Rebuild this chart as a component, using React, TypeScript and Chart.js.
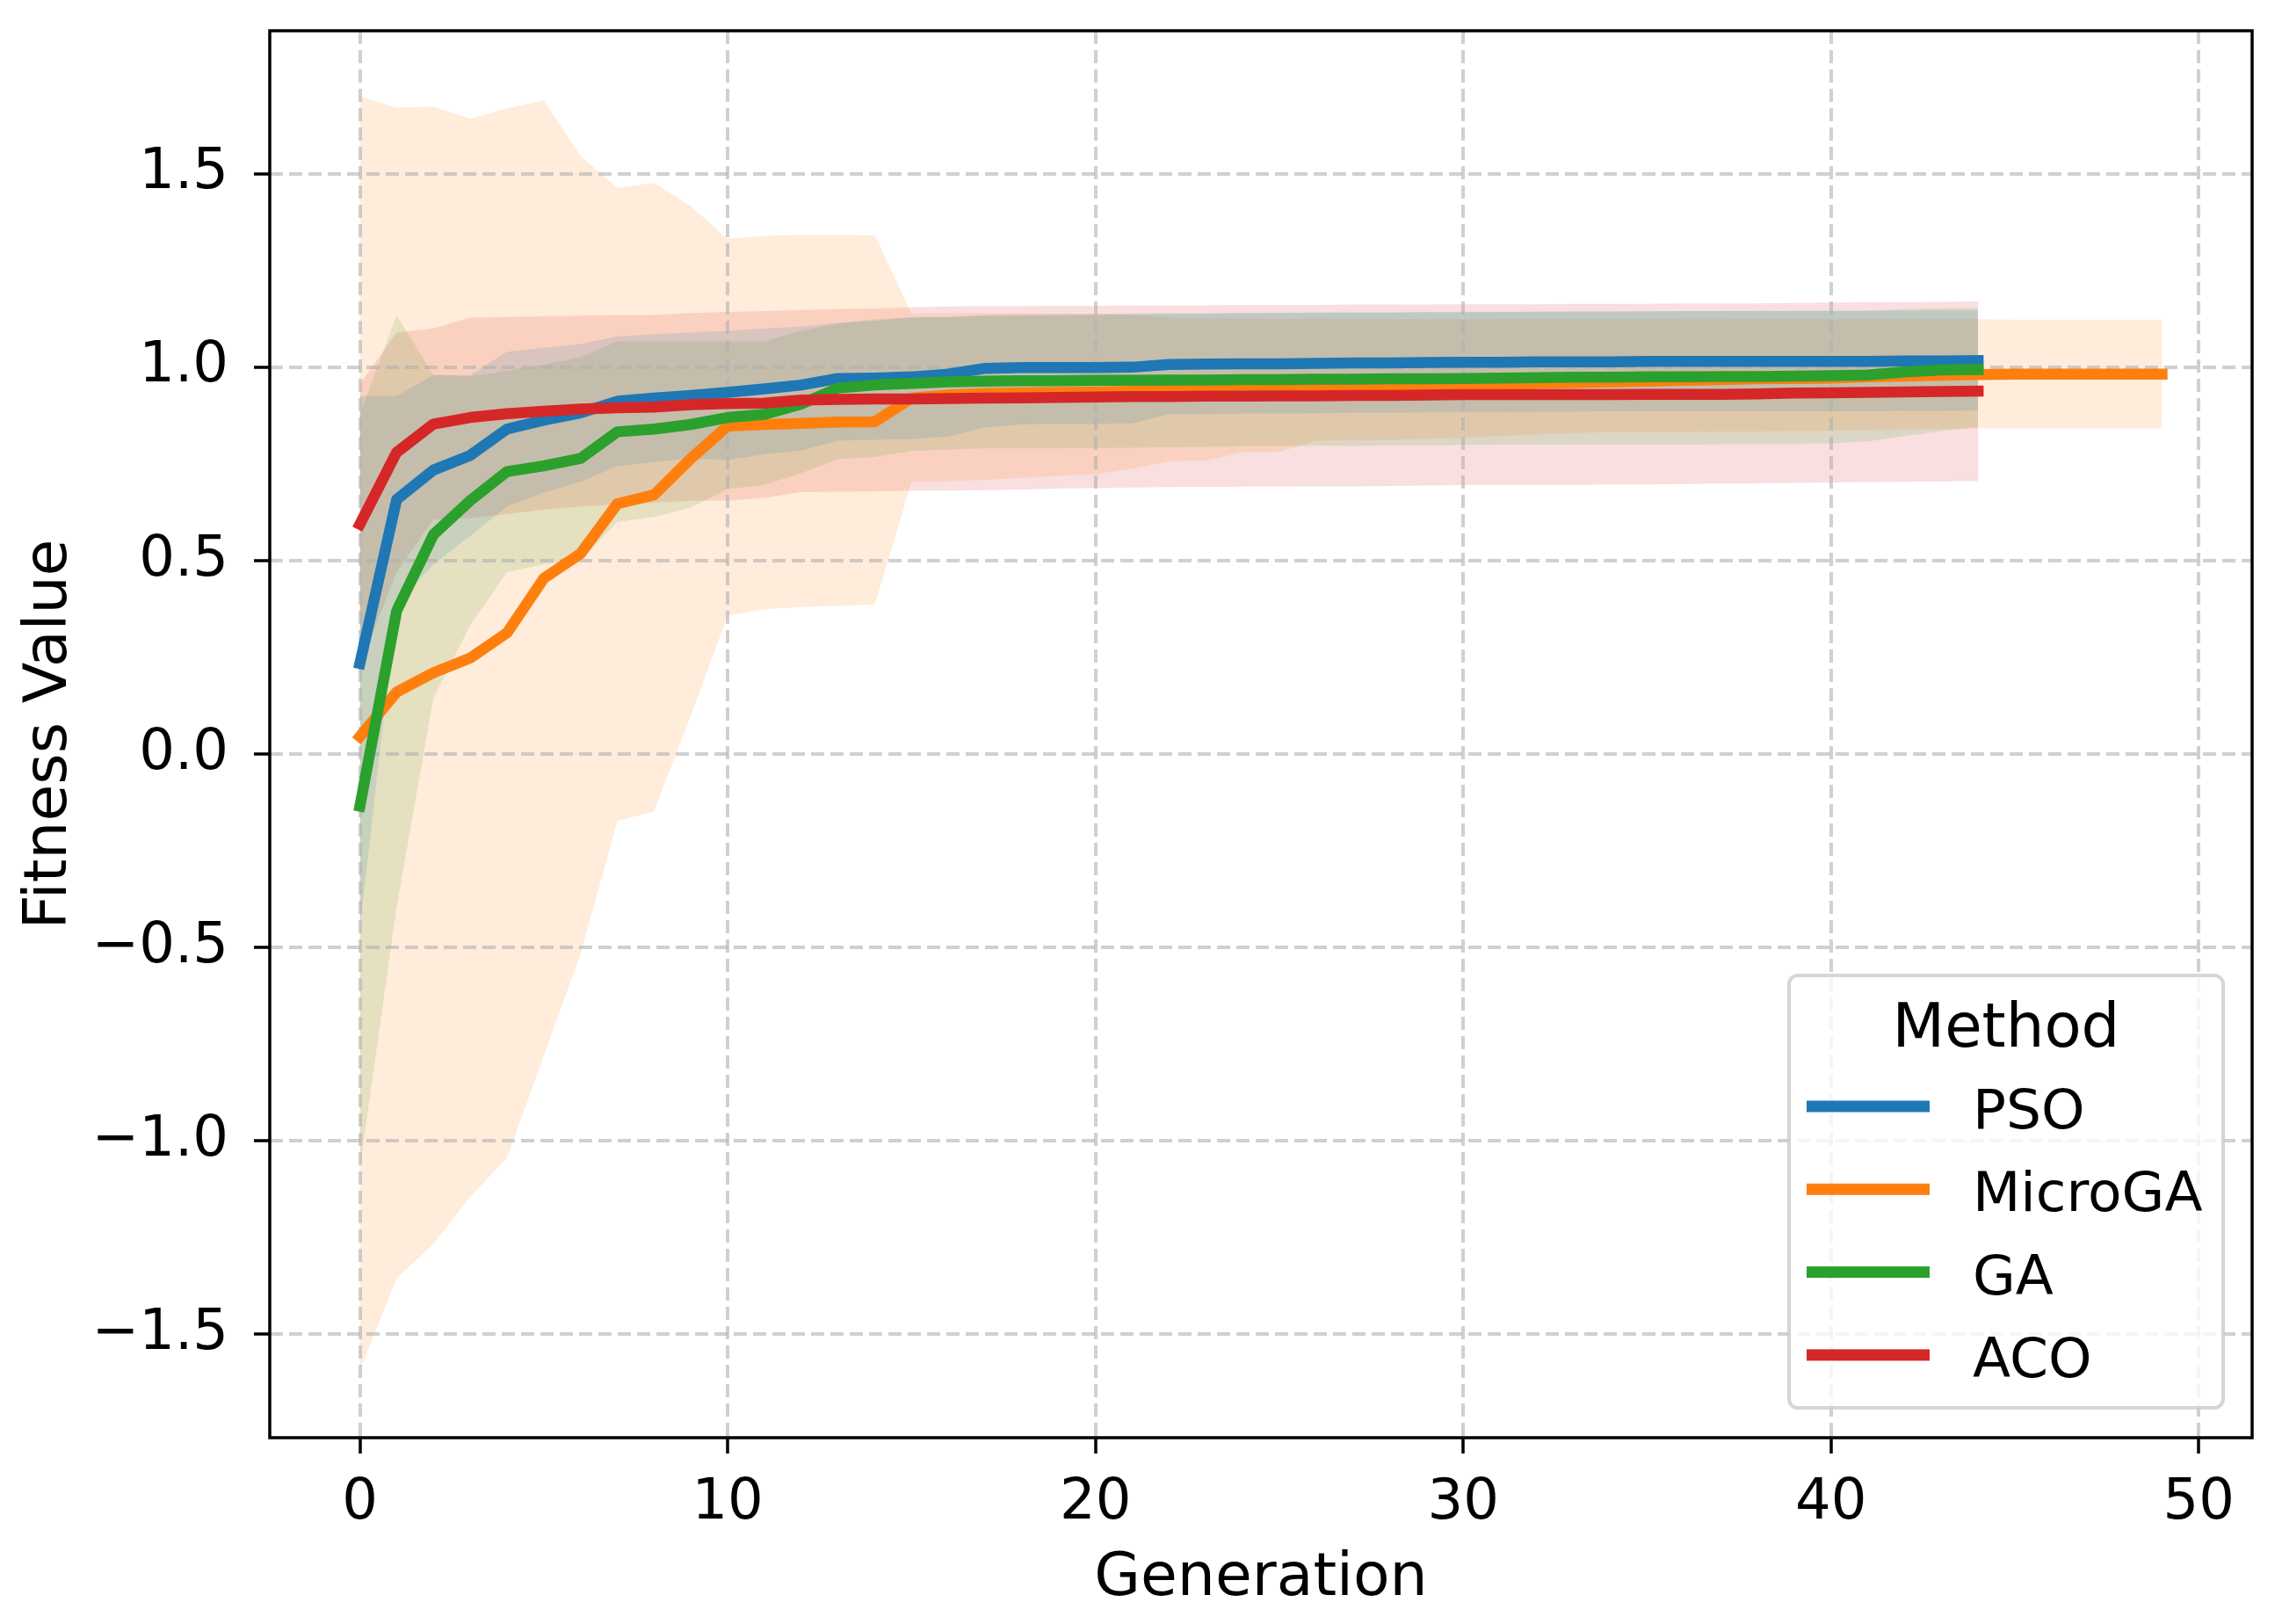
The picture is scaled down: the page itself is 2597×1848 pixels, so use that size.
import { useEffect, useRef } from "react"
import { Chart, registerables } from "chart.js"
import type { Plugin } from "chart.js"

Chart.register(...registerables)

const methods = ["PSO", "MicroGA", "GA", "ACO"]
const lineColors = ["#1f77b4", "#ff7f0e", "#2ca02c", "#d62728"]
const bandColors = [
  "rgba(31,119,180,0.15)",
  "rgba(255,127,14,0.15)",
  "rgba(44,160,44,0.15)",
  "rgba(214,39,40,0.15)",
]

// mean fitness per generation, with the shaded band edges
const psoMean = [
  0.234, 0.658, 0.734, 0.772, 0.84, 0.863, 0.882, 0.912, 0.92, 0.927,
  0.935, 0.944, 0.954, 0.971, 0.972, 0.975, 0.982, 0.997, 0.999, 0.999,
  0.999, 1.0, 1.007, 1.008, 1.009, 1.009, 1.01, 1.011, 1.011, 1.012,
  1.013, 1.013, 1.014, 1.014, 1.014, 1.015, 1.015, 1.015, 1.015, 1.015,
  1.015, 1.015, 1.016, 1.016, 1.017,
]
const psoUpper = [
  0.926, 0.926, 0.98, 0.98, 1.04, 1.05, 1.06, 1.08, 1.085, 1.09,
  1.094, 1.1, 1.105, 1.115, 1.12, 1.13, 1.13, 1.135, 1.136, 1.137,
  1.138, 1.139, 1.14, 1.14, 1.141, 1.141, 1.142, 1.142, 1.142, 1.143,
  1.143, 1.143, 1.144, 1.144, 1.144, 1.144, 1.145, 1.145, 1.145, 1.145,
  1.145, 1.145, 1.146, 1.146, 1.146,
]
const psoLower = [
  -0.45, 0.39, 0.49, 0.564, 0.64, 0.676, 0.704, 0.744, 0.755, 0.764,
  0.76, 0.775, 0.785, 0.81, 0.812, 0.814, 0.821, 0.844, 0.852, 0.853,
  0.853, 0.855, 0.878, 0.879, 0.88, 0.88, 0.881, 0.882, 0.882, 0.883,
  0.884, 0.884, 0.885, 0.885, 0.886, 0.886, 0.886, 0.886, 0.886, 0.886,
  0.886, 0.886, 0.887, 0.887, 0.888,
]

const microMean = [
  0.045, 0.16, 0.21, 0.248, 0.313, 0.454, 0.518, 0.647, 0.67, 0.764,
  0.848, 0.852, 0.855, 0.858, 0.859, 0.92, 0.928, 0.932, 0.934, 0.935,
  0.936, 0.938, 0.94, 0.941, 0.942, 0.944, 0.946, 0.948, 0.95, 0.952,
  0.954, 0.956, 0.958, 0.96, 0.962, 0.964, 0.966, 0.968, 0.97, 0.971,
  0.972, 0.975, 0.977, 0.979, 0.981, 0.982, 0.982, 0.982, 0.982, 0.982,
]
const microUpper = [
  1.7, 1.671, 1.674, 1.643, 1.669, 1.69, 1.547, 1.463, 1.477, 1.416,
  1.332, 1.34, 1.342, 1.342, 1.341, 1.139, 1.14, 1.14, 1.14, 1.139,
  1.138, 1.135, 1.128, 1.126, 1.125, 1.125, 1.125, 1.124, 1.124, 1.124,
  1.124, 1.124, 1.124, 1.124, 1.124, 1.124, 1.124, 1.124, 1.124, 1.124,
  1.124, 1.124, 1.124, 1.124, 1.124, 1.123, 1.123, 1.123, 1.123, 1.123,
]
const microLower = [
  -1.593, -1.356, -1.267, -1.145, -1.045, -0.78, -0.517, -0.174, -0.148, 0.1,
  0.358, 0.374, 0.38, 0.383, 0.386, 0.704, 0.705, 0.709, 0.714, 0.719,
  0.723, 0.738, 0.757, 0.759, 0.78, 0.781, 0.81, 0.811, 0.812, 0.815,
  0.818, 0.822, 0.826, 0.83, 0.832, 0.833, 0.833, 0.834, 0.834, 0.835,
  0.836, 0.837, 0.839, 0.84, 0.842, 0.842, 0.842, 0.842, 0.842, 0.842,
]

const gaMean = [
  -0.135, 0.37, 0.567, 0.655, 0.73, 0.745, 0.764, 0.833, 0.84, 0.852,
  0.87, 0.878, 0.905, 0.946, 0.954, 0.958, 0.962, 0.964, 0.965, 0.965,
  0.966, 0.966, 0.967, 0.967, 0.968, 0.968, 0.969, 0.969, 0.97, 0.97,
  0.971, 0.972, 0.973, 0.974, 0.974, 0.975, 0.975, 0.976, 0.976, 0.977,
  0.978, 0.98, 0.988, 0.993, 0.994,
]
const gaUpper = [
  0.88, 1.134, 0.98, 0.977, 0.99, 1.007, 1.026, 1.067, 1.067, 1.067,
  1.067, 1.067, 1.094, 1.113, 1.124, 1.128, 1.13, 1.132, 1.133, 1.134,
  1.135, 1.136, 1.137, 1.138, 1.139, 1.14, 1.14, 1.141, 1.141, 1.142,
  1.142, 1.143, 1.143, 1.144, 1.144, 1.145, 1.145, 1.145, 1.146, 1.146,
  1.146, 1.147, 1.15, 1.152, 1.153,
]
const gaLower = [
  -1.07, -0.395, 0.145, 0.333, 0.47, 0.49, 0.502, 0.6, 0.613, 0.637,
  0.685, 0.696, 0.726, 0.762, 0.768, 0.783, 0.787, 0.79, 0.79, 0.79,
  0.791, 0.792, 0.793, 0.794, 0.795, 0.796, 0.797, 0.797, 0.798, 0.798,
  0.799, 0.8, 0.8, 0.8, 0.8, 0.8, 0.8, 0.801, 0.801, 0.802,
  0.803, 0.808, 0.822, 0.835, 0.845,
]

const acoMean = [
  0.594, 0.78, 0.853, 0.87, 0.88, 0.886, 0.892, 0.895, 0.897, 0.903,
  0.906, 0.907, 0.915, 0.917, 0.918, 0.918, 0.919, 0.92, 0.921, 0.922,
  0.923, 0.924, 0.924, 0.925, 0.925, 0.926, 0.926, 0.927, 0.927, 0.928,
  0.929, 0.929, 0.929, 0.929, 0.929, 0.93, 0.93, 0.93, 0.931, 0.933,
  0.934, 0.935, 0.936, 0.937, 0.938,
]
const acoUpper = [
  0.956, 1.09, 1.1, 1.128, 1.13, 1.132, 1.133, 1.135, 1.135, 1.14,
  1.143, 1.145, 1.148, 1.15, 1.152, 1.155, 1.157, 1.158, 1.158, 1.159,
  1.159, 1.16, 1.16, 1.16, 1.161, 1.161, 1.161, 1.162, 1.162, 1.162,
  1.163, 1.163, 1.163, 1.164, 1.164, 1.164, 1.165, 1.165, 1.165, 1.166,
  1.167, 1.168, 1.168, 1.169, 1.17,
]
const acoLower = [
  0.23, 0.47, 0.606, 0.61, 0.62, 0.632, 0.64, 0.645, 0.65, 0.655,
  0.655, 0.662, 0.677, 0.678, 0.679, 0.681, 0.681, 0.682, 0.684, 0.686,
  0.688, 0.689, 0.69, 0.69, 0.691, 0.691, 0.692, 0.692, 0.693, 0.694,
  0.695, 0.695, 0.696, 0.696, 0.697, 0.697, 0.698, 0.699, 0.7, 0.701,
  0.702, 0.703, 0.704, 0.705, 0.706,
]

const xTicks = [0, 10, 20, 30, 40, 50]
const yTicks = [-1.5, -1.0, -0.5, 0.0, 0.5, 1.0, 1.5]

const FONT = "'DejaVu Sans', sans-serif"

const series = [
  { mean: psoMean, upper: psoUpper, lower: psoLower },
  { mean: microMean, upper: microUpper, lower: microLower },
  { mean: gaMean, upper: gaUpper, lower: gaLower },
  { mean: acoMean, upper: acoUpper, lower: acoLower },
]

const toPoints = (values: number[]) => values.map((y, x) => ({ x, y }))

const fmtTick = (v: number) => {
  const s = Math.abs(v).toFixed(1)
  return v < 0 ? "\u2212" + s : s
}

// spines, legend and axis titles, drawn like matplotlib does
const overlay: Plugin<"line"> = {
  id: "overlay",
  afterDatasetsDraw(chart) {
    const { ctx, chartArea: a } = chart
    ctx.save()
    ctx.strokeStyle = "#000"
    ctx.lineWidth = 3.5
    ctx.strokeRect(a.left, a.top, a.right - a.left, a.bottom - a.top)
    ctx.restore()
  },
  afterDraw(chart) {
    const { ctx, chartArea: a } = chart
    ctx.save()

    // legend box
    const bw = 494
    const bh = 492
    const bx = a.right - 33 - bw
    const by = a.bottom - 34 - bh
    ctx.beginPath()
    ctx.roundRect(bx, by, bw, bh, 10)
    ctx.fillStyle = "rgba(255,255,255,0.8)"
    ctx.fill()
    ctx.strokeStyle = "rgba(204,204,204,0.8)"
    ctx.lineWidth = 4
    ctx.stroke()

    ctx.fillStyle = "#000"
    ctx.textAlign = "center"
    ctx.textBaseline = "alphabetic"
    ctx.font = `69px ${FONT}`
    ctx.fillText("Method", bx + bw / 2, by + 81)

    ctx.textAlign = "left"
    ctx.font = `63px ${FONT}`
    methods.forEach((name, i) => {
      const y = by + 149 + i * 94.3
      ctx.fillStyle = lineColors[i]
      ctx.fillRect(bx + 20, y - 6.5, 140, 13)
      ctx.fillStyle = "#000"
      ctx.fillText(name, bx + 209, y + 25)
    })

    // axis titles
    ctx.font = `68px ${FONT}`
    ctx.textAlign = "center"
    ctx.fillText("Generation", (a.left + a.right) / 2, 1815)
    ctx.translate(75, (a.top + a.bottom) / 2)
    ctx.rotate(-Math.PI / 2)
    ctx.fillText("Fitness Value", 0, 0)

    ctx.restore()
  },
}

export default function App() {
  const canvasRef = useRef<HTMLCanvasElement>(null)
  const chartRef = useRef<Chart<"line"> | null>(null)

  useEffect(() => {
    if (!canvasRef.current) return
    if (chartRef.current) chartRef.current.destroy()

    // lines first in the list so they are painted on top; ACO topmost
    const lineOrder = [3, 2, 1, 0]
    const lineSets = lineOrder.map((i) => ({
      label: methods[i],
      data: toPoints(series[i].mean),
      borderColor: lineColors[i],
      backgroundColor: lineColors[i],
      borderWidth: 12.5,
      borderCapStyle: "square" as const,
      borderJoinStyle: "round" as const,
      pointRadius: 0,
      fill: false,
    }))

    const bandSets: any[] = []
    series.forEach((s, i) => {
      const upperIndex = lineSets.length + bandSets.length
      bandSets.push({
        label: methods[i] + " upper",
        data: toPoints(s.upper),
        borderWidth: 0,
        borderColor: "rgba(0,0,0,0)",
        backgroundColor: bandColors[i],
        pointRadius: 0,
        fill: upperIndex + 1,
      })
      bandSets.push({
        label: methods[i] + " lower",
        data: toPoints(s.lower),
        borderWidth: 0,
        borderColor: "rgba(0,0,0,0)",
        backgroundColor: bandColors[i],
        pointRadius: 0,
        fill: false,
      })
    })

    const gridStyle = {
      color: "rgba(176,176,176,0.6)",
      lineWidth: 4,
      tickColor: "#000",
      tickLength: 18,
      tickWidth: 3.5,
      tickBorderDash: [],
    }

    chartRef.current = new Chart(canvasRef.current, {
      type: "line",
      data: { datasets: [...lineSets, ...bandSets] },
      plugins: [overlay],
      options: {
        animation: false,
        responsive: true,
        maintainAspectRatio: false,
        devicePixelRatio: 1,
        events: [],
        layout: { padding: { left: 0, top: 35, right: 34, bottom: 0 } },
        plugins: {
          legend: { display: false },
          tooltip: { enabled: false },
          filler: { drawTime: "beforeDraw" },
        },
        scales: {
          x: {
            type: "linear",
            min: -2.45,
            max: 51.45,
            afterBuildTicks: (scale) => {
              scale.ticks = xTicks.map((value) => ({ value }))
            },
            afterFit: (scale: any) => {
              scale.height = 212
              scale.paddingLeft = 0
              scale.paddingRight = 0
            },
            grid: gridStyle,
            border: { display: false, dash: [15, 7] },
            ticks: {
              color: "#000",
              font: { family: FONT, size: 64 },
              padding: 19,
              maxRotation: 0,
              autoSkip: false,
            },
          },
          y: {
            type: "linear",
            min: -1.768,
            max: 1.87,
            afterBuildTicks: (scale) => {
              scale.ticks = yTicks.map((value) => ({ value }))
            },
            afterFit: (scale: any) => {
              scale.width = 307
              scale.paddingTop = 0
              scale.paddingBottom = 0
            },
            grid: gridStyle,
            border: { display: false, dash: [15, 7] },
            ticks: {
              color: "#000",
              font: { family: FONT, size: 64 },
              padding: 29,
              autoSkip: false,
              callback: (v) => fmtTick(Number(v)),
            },
          },
        },
      },
    })

    return () => {
      if (chartRef.current) {
        chartRef.current.destroy()
        chartRef.current = null
      }
    }
  }, [])

  return (
    <div
      style={{
        position: "fixed",
        left: 0,
        top: 0,
        width: 2597,
        height: 1848,
        background: "#fff",
      }}
    >
      <canvas ref={canvasRef} />
    </div>
  )
}
